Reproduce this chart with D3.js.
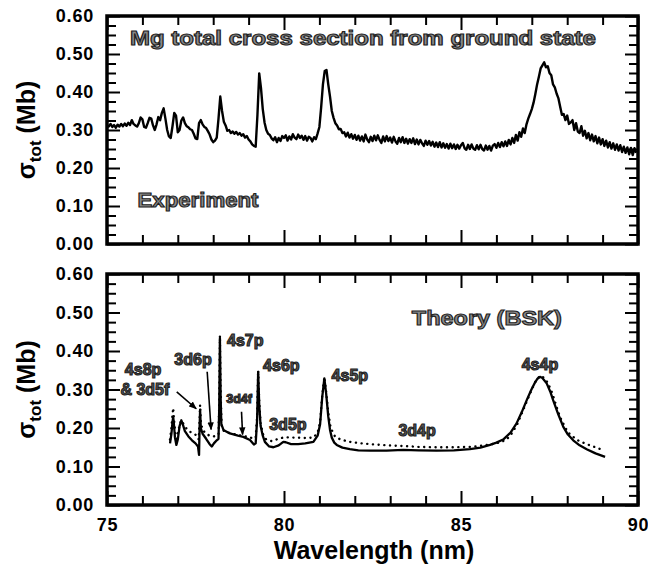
<!DOCTYPE html>
<html>
<head>
<meta charset="utf-8">
<script src="https://cdn.jsdelivr.net/npm/d3@7"></script>
<style>
body { margin: 0; background: #fff; }
svg text { font-family: "Liberation Sans", Arial, Helvetica, sans-serif; font-weight: bold; }
</style>
</head>
<body>
<script>
// Mg total photoabsorption cross section: experiment (top) vs BSK theory (bottom)

// axis ticks
var xMajorTicks = [75, 80, 85, 90];
var xMinorTicks = [76, 77, 78, 79, 81, 82, 83, 84, 86, 87, 88, 89];
var yMajorTicks = [0, 0.1, 0.2, 0.3, 0.4, 0.5, 0.6];
var yMinorTicks = [0.025, 0.05, 0.075, 0.125, 0.15, 0.175, 0.225, 0.25, 0.275,
                   0.325, 0.35, 0.375, 0.425, 0.45, 0.475, 0.525, 0.55, 0.575];

// experiment [wavelength nm, sigma Mb]
var experiment = [
 [75.00,.313],[75.05,.309],[75.10,.316],[75.15,.308],[75.20,.313],[75.25,.306],[75.30,.314],[75.35,.309],[75.40,.316],[75.45,.310],
 [75.50,.317],[75.55,.311],[75.60,.319],[75.65,.313],[75.70,.326],[75.75,.316],[75.80,.312],[75.85,.309],[75.90,.318],[75.95,.333],
 [76.00,.328],[76.05,.308],[76.10,.306],[76.15,.318],[76.20,.332],[76.25,.330],[76.30,.312],[76.35,.300],[76.40,.315],[76.45,.334],
 [76.50,.326],[76.55,.345],[76.60,.357],[76.65,.330],[76.70,.300],[76.75,.283],[76.80,.279],[76.85,.310],[76.90,.345],[76.95,.338],
 [77.00,.294],[77.05,.300],[77.10,.325],[77.15,.333],[77.20,.318],[77.25,.310],[77.30,.307],[77.35,.302],[77.40,.300],[77.45,.290],
 [77.50,.278],[77.55,.276],[77.60,.318],[77.65,.326],[77.70,.315],[77.75,.308],[77.80,.305],[77.85,.297],[77.90,.288],[77.95,.275],
 [78.00,.268],[78.05,.272],[78.10,.280],[78.15,.330],[78.20,.388],[78.25,.350],[78.30,.322],[78.35,.312],[78.40,.298],[78.45,.300],
 [78.50,.292],[78.55,.296],[78.60,.290],[78.65,.295],[78.70,.288],[78.75,.292],[78.80,.285],[78.85,.289],[78.90,.280],[78.95,.284],
 [79.00,.275],[79.05,.270],[79.10,.262],[79.15,.258],[79.20,.256],[79.25,.340],[79.30,.449],[79.35,.410],[79.40,.355],[79.45,.320],
 [79.50,.300],[79.55,.290],[79.60,.287],[79.65,.278],[79.70,.273],[79.75,.281],[79.80,.268],[79.85,.279],[79.90,.271],[79.95,.284],
 [80.00,.279],[80.05,.286],[80.10,.272],[80.15,.283],[80.20,.275],[80.25,.289],[80.30,.280],[80.35,.276],[80.40,.288],[80.45,.279],
 [80.50,.285],[80.55,.274],[80.60,.284],[80.65,.272],[80.70,.282],[80.75,.279],[80.80,.270],[80.85,.281],[80.90,.276],[80.95,.291],
 [81.00,.308],[81.05,.360],[81.10,.420],[81.15,.455],[81.20,.458],[81.25,.420],[81.30,.388],[81.35,.350],[81.40,.332],[81.45,.318],
 [81.50,.312],[81.55,.302],[81.60,.303],[81.65,.292],[81.70,.294],[81.75,.283],[81.80,.293],[81.85,.280],[81.90,.289],[81.95,.277],
 [82.00,.287],[82.05,.274],[82.10,.285],[82.15,.272],[82.20,.283],[82.25,.270],[82.30,.288],[82.35,.275],[82.40,.268],[82.45,.282],
 [82.50,.271],[82.55,.285],[82.60,.273],[82.65,.286],[82.70,.274],[82.75,.266],[82.80,.283],[82.85,.270],[82.90,.284],[82.95,.271],
 [83.00,.280],[83.05,.267],[83.10,.282],[83.15,.270],[83.20,.264],[83.25,.279],[83.30,.268],[83.35,.281],[83.40,.266],[83.45,.277],
 [83.50,.264],[83.55,.276],[83.60,.266],[83.65,.278],[83.70,.263],[83.75,.275],[83.80,.262],[83.85,.274],[83.90,.265],[83.95,.258],
 [84.00,.272],[84.05,.261],[84.10,.271],[84.15,.259],[84.20,.269],[84.25,.256],[84.30,.267],[84.35,.255],[84.40,.268],[84.45,.254],
 [84.50,.265],[84.55,.253],[84.60,.263],[84.65,.251],[84.70,.264],[84.75,.252],[84.80,.262],[84.85,.250],[84.90,.261],[84.95,.251],
 [85.00,.260],[85.05,.266],[85.10,.252],[85.15,.248],[85.20,.261],[85.25,.250],[85.30,.262],[85.35,.251],[85.40,.248],[85.45,.260],
 [85.50,.249],[85.55,.261],[85.60,.250],[85.65,.246],[85.70,.259],[85.75,.248],[85.80,.258],[85.85,.246],[85.90,.259],[85.95,.263],
 [86.00,.253],[86.05,.266],[86.10,.255],[86.15,.268],[86.20,.257],[86.25,.270],[86.30,.258],[86.35,.274],[86.40,.262],[86.45,.279],
 [86.50,.266],[86.55,.287],[86.60,.272],[86.65,.294],[86.70,.282],[86.75,.304],[86.80,.292],[86.85,.315],[86.90,.330],[86.95,.342],
 [87.00,.355],[87.05,.372],[87.10,.395],[87.15,.420],[87.20,.440],[87.25,.462],[87.30,.470],[87.35,.478],[87.40,.465],[87.45,.468],
 [87.50,.450],[87.55,.444],[87.60,.420],[87.65,.412],[87.70,.396],[87.75,.384],[87.80,.362],[87.85,.340],[87.90,.342],[87.95,.326],
 [88.00,.338],[88.05,.316],[88.10,.320],[88.15,.326],[88.20,.300],[88.25,.318],[88.30,.296],[88.35,.292],[88.40,.310],[88.45,.285],
 [88.50,.298],[88.55,.278],[88.60,.292],[88.65,.273],[88.70,.288],[88.75,.270],[88.80,.284],[88.85,.265],[88.90,.280],[88.95,.262],
 [89.00,.276],[89.05,.258],[89.10,.272],[89.15,.254],[89.20,.268],[89.25,.251],[89.30,.265],[89.35,.248],[89.40,.262],[89.45,.246],
 [89.50,.260],[89.55,.242],[89.60,.256],[89.65,.240],[89.70,.254],[89.75,.236],[89.80,.253],[89.85,.234],[89.90,.252],[89.95,.240]
];

// theory, solid line
var theorySolid = [
 [76.78,.160],[76.82,.185],[76.85,.215],[76.87,.229],[76.89,.210],[76.92,.175],[76.96,.156],[77.00,.170],[77.05,.205],[77.10,.220],
 [77.14,.210],[77.20,.192],[77.30,.178],[77.40,.168],[77.50,.160],[77.57,.152],[77.60,.130],[77.615,.200],[77.63,.247],[77.65,.200],
 [77.70,.185],[77.80,.172],[77.90,.158],[77.96,.152],[78.02,.160],[78.10,.168],[78.15,.172],[78.17,.250],[78.19,.433],[78.21,.280],
 [78.23,.210],[78.29,.195],[78.47,.186],[78.70,.180],[78.85,.177],[79.04,.169],[79.15,.157],[79.20,.160],[79.24,.220],[79.27,.346],
 [79.30,.260],[79.34,.205],[79.40,.180],[79.46,.164],[79.58,.152],[79.70,.150],[79.85,.155],[79.98,.164],[80.05,.163],[80.20,.158],
 [80.40,.158],[80.60,.160],[80.83,.164],[80.95,.180],[81.02,.210],[81.08,.280],[81.14,.329],[81.19,.290],[81.25,.230],[81.30,.195],
 [81.35,.175],[81.42,.162],[81.49,.156],[81.65,.149],[81.86,.145],[82.10,.142],[82.43,.141],[82.90,.141],[83.37,.143],[83.80,.142],
 [84.31,.141],[84.80,.142],[85.25,.145],[85.55,.149],[85.82,.156],[86.00,.162],[86.19,.170],[86.40,.188],[86.57,.212],[86.72,.242],
 [86.86,.273],[86.98,.298],[87.09,.318],[87.16,.328],[87.23,.333],[87.30,.330],[87.42,.316],[87.52,.295],[87.60,.273],[87.75,.235],
 [87.89,.203],[88.02,.183],[88.17,.168],[88.35,.155],[88.55,.145],[88.80,.134],[89.07,.125]
];

// theory, dotted line
var theoryDotted = [
 [76.78,.170],[76.82,.200],[76.85,.235],[76.87,.252],[76.89,.225],[76.93,.185],[76.97,.172],[77.01,.190],[77.06,.212],[77.10,.220],
 [77.15,.212],[77.25,.198],[77.35,.190],[77.45,.185],[77.55,.180],[77.59,.170],[77.615,.220],[77.63,.260],[77.65,.215],[77.70,.195],
 [77.80,.185],[77.90,.180],[78.00,.178],[78.10,.180],[78.15,.183],[78.17,.260],[78.19,.440],[78.21,.290],[78.24,.205],[78.30,.192],
 [78.50,.186],[78.75,.181],[79.00,.177],[79.15,.172],[79.20,.175],[79.24,.230],[79.27,.350],[79.30,.270],[79.34,.210],[79.42,.180],
 [79.50,.170],[79.65,.166],[79.85,.172],[80.00,.176],[80.30,.175],[80.60,.174],[80.83,.175],[80.95,.188],[81.02,.215],[81.08,.285],
 [81.14,.332],[81.19,.295],[81.25,.240],[81.32,.200],[81.44,.178],[81.60,.170],[81.86,.164],[82.10,.161],[82.43,.158],[82.90,.155],
 [83.37,.153],[83.80,.151],[84.31,.150],[84.80,.150],[85.25,.151],[85.60,.154],[86.00,.160],[86.28,.169],[86.45,.188],[86.60,.212],
 [86.75,.245],[86.88,.274],[87.00,.300],[87.10,.320],[87.23,.336],[87.32,.332],[87.45,.318],[87.58,.290],[87.70,.255],[87.80,.228],
 [87.95,.200],[88.08,.183],[88.30,.168],[88.55,.158],[88.80,.150],[89.00,.143]
];

// state labels in the theory panel: [text, wavelength, sigma, anchor, size]
var stateLabels = [
 ["4s8p", 76.02, 0.353, "middle", 16],
 ["& 3d5f", 76.07, 0.301, "middle", 16],
 ["3d6p", 77.43, 0.379, "middle", 16],
 ["4s7p", 78.39, 0.429, "start", 16],
 ["3d4f", 78.73, 0.276, "middle", 12.5],
 ["4s6p", 79.41, 0.364, "start", 16],
 ["3d5p", 80.11, 0.210, "middle", 16],
 ["4s5p", 81.86, 0.338, "middle", 16],
 ["3d4p", 83.76, 0.195, "middle", 16],
 ["4s4p", 87.23, 0.366, "middle", 16]
];
// arrows: [from wl, from sigma, to wl, to sigma]
var arrows = [
 [76.97, 0.294, 77.52, 0.250],
 [77.83, 0.346, 77.94, 0.196],
 [78.80, 0.242, 78.83, 0.183]
];

var width = 648;
var height = 573;

var svg = d3.select("body").
    append("svg").
    attr("width", width).
    attr("height", height);

var xScale = d3.scaleLinear().domain([75, 90]).range([107, 638]);
var yTop = d3.scaleLinear().domain([0, 0.6]).range([244, 16]);
var yBot = d3.scaleLinear().domain([0, 0.6]).range([505, 274]);

svg.append("defs").append("marker").
    attr("id", "arrowhead").
    attr("viewBox", "0 0 10 10").
    attr("refX", 9).attr("refY", 5).
    attr("markerWidth", 5).attr("markerHeight", 5).
    attr("markerUnits", "strokeWidth").
    attr("orient", "auto").
    append("path").
    attr("d", "M0,1 L10,5 L0,9 z").
    attr("fill", "#000");

// one axis group drawn with inward ticks
function axisGroup(axis, tx, ty) {
    var g = svg.append("g").
        attr("transform", "translate(" + tx + "," + ty + ")").
        call(axis);
    g.select(".domain").remove();
    g.attr("font-family", null).attr("font-size", 18);
    g.selectAll(".tick line").
        style("stroke", "#000").
        style("stroke-width", "2px");
    g.selectAll(".tick text").attr("fill", "#000").style("letter-spacing", "0.8px");
    return g;
}

function drawPanel(y, xLabels) {
    var top = y.range()[1], bottom = y.range()[0];
    var left = xScale.range()[0], right = xScale.range()[1];

    svg.append("rect").
        attr("x", left).attr("y", top).
        attr("width", right - left).attr("height", bottom - top).
        style("fill", "none").style("stroke", "#000").style("stroke-width", "3.5px");

    axisGroup(d3.axisBottom(xScale).tickValues(xMinorTicks).tickSizeInner(-9).tickSizeOuter(0).tickFormat(""), 0, bottom);
    axisGroup(d3.axisBottom(xScale).tickValues(xMajorTicks).tickSizeInner(-14).tickSizeOuter(0).tickPadding(13).
        tickFormat(xLabels ? d3.format("d") : ""), 0, bottom);
    axisGroup(d3.axisTop(xScale).tickValues(xMinorTicks).tickSizeInner(-9).tickSizeOuter(0).tickFormat(""), 0, top);
    axisGroup(d3.axisTop(xScale).tickValues(xMajorTicks).tickSizeInner(-14).tickSizeOuter(0).tickFormat(""), 0, top);
    axisGroup(d3.axisLeft(y).tickValues(yMinorTicks).tickSizeInner(-9).tickSizeOuter(0).tickFormat(""), left, 0);
    axisGroup(d3.axisLeft(y).tickValues(yMajorTicks).tickSizeInner(-13).tickSizeOuter(0).tickPadding(13).
        tickFormat(d3.format(".2f")), left, 0);
    axisGroup(d3.axisRight(y).tickValues(yMinorTicks).tickSizeInner(-9).tickSizeOuter(0).tickFormat(""), right, 0);
    axisGroup(d3.axisRight(y).tickValues(yMajorTicks).tickSizeInner(-13).tickSizeOuter(0).tickFormat(""), right, 0);

    // y axis title with subscript
    var t = svg.append("text").
        attr("transform", "translate(35," + ((top + bottom) / 2) + ") rotate(-90)").
        attr("text-anchor", "middle").
        attr("font-size", 25).
        attr("fill", "#000");
    t.append("tspan").text("σ");
    t.append("tspan").attr("font-size", 17).attr("dy", 6).text("tot");
    t.append("tspan").attr("dy", -6).text(" (Mb)");
}

drawPanel(yTop, false);
drawPanel(yBot, true);

// curves
function lineFor(y) {
    return d3.line().
        x(function(d) { return xScale(d[0]); }).
        y(function(d) { return y(d[1]); });
}

svg.append("path").
    datum(experiment).
    attr("d", lineFor(yTop)).
    attr("fill", "none").attr("stroke", "#000").
    attr("stroke-width", 2.4).attr("stroke-linejoin", "round");

svg.append("path").
    datum(theoryDotted).
    attr("d", lineFor(yBot)).
    attr("fill", "none").attr("stroke", "#000").
    attr("stroke-width", 2.4).attr("stroke-linecap", "round").
    attr("stroke-dasharray", "0.1,5.6");

svg.append("path").
    datum(theorySolid).
    attr("d", lineFor(yBot)).
    attr("fill", "none").attr("stroke", "#000").
    attr("stroke-width", 2.3).attr("stroke-linejoin", "round");

// outlined gray text, like the original figure
function outlined(txt, x, y, size, anchor, fill, len) {
    var t = svg.append("text").
        attr("x", x).attr("y", y).attr("dy", "0.36em").
        attr("text-anchor", anchor).
        attr("font-size", size).
        attr("fill", fill).
        attr("stroke", "#222").attr("stroke-width", 1.1).
        text(txt);
    if (len) t.attr("textLength", len).attr("lengthAdjust", "spacingAndGlyphs");
    return t;
}

outlined("Mg total cross section from ground state", xScale(82.23), yTop(0.542), 20, "middle", "#8a8a8a", 466);
outlined("Experiment", xScale(77.57), yTop(0.116), 20, "middle", "#8a8a8a", 121);
outlined("Theory (BSK)", xScale(85.73), yBot(0.486), 21, "middle", "#8a8a8a", 150);

stateLabels.forEach(function(d) {
    outlined(d[0], xScale(d[1]), yBot(d[2]), d[4], d[3], "#5a5a5a");
});

arrows.forEach(function(a) {
    svg.append("line").
        attr("x1", xScale(a[0])).attr("y1", yBot(a[1])).
        attr("x2", xScale(a[2])).attr("y2", yBot(a[3])).
        attr("stroke", "#000").attr("stroke-width", 1.6).
        attr("marker-end", "url(#arrowhead)");
});

// x axis title
svg.append("text").
    attr("x", 374).attr("y", 559).
    attr("text-anchor", "middle").
    attr("font-size", 25).
    attr("fill", "#000").
    text("Wavelength (nm)");
</script>
</body>
</html>
